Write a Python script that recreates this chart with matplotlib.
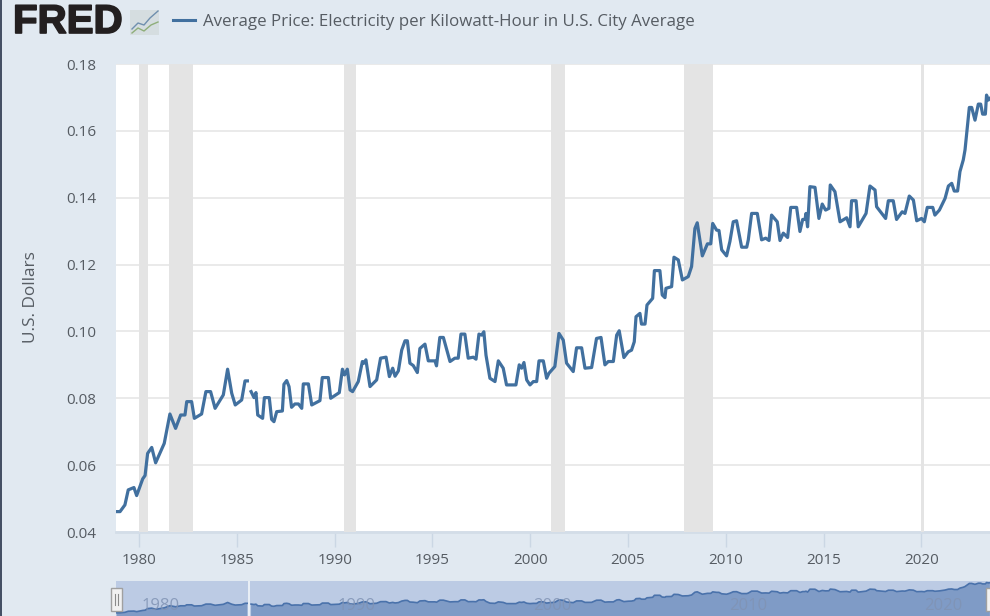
import numpy as np
import matplotlib
matplotlib.use("Agg")
import matplotlib.pyplot as plt
import matplotlib.patheffects as pe
from matplotlib.patches import Rectangle

plt.rcParams['font.family'] = ['Open Sans', 'DejaVu Sans']

TITLE = "Average Price: Electricity per Kilowatt-Hour in U.S. City Average"
Y_LABEL = "U.S. Dollars"
X_TICKS = [1980, 1985, 1990, 1995, 2000, 2005, 2010, 2015, 2020]
Y_TICKS = [0.04, 0.06, 0.08, 0.10, 0.12, 0.14, 0.16, 0.18]
NAV_LABELS = [1980, 1990, 2000, 2010, 2020]
RECESSIONS = [(1980.0, 1980.46), (1981.53, 1982.78), (1990.48, 1991.10),
              (2001.08, 2001.78), (2007.85, 2009.35), (2019.98, 2020.13)]

years = [1978.86, 1979.03, 1979.28, 1979.45, 1979.74, 1979.88, 1980.19, 1980.31, 1980.44, 1980.65,
         1980.85, 1981.29, 1981.58, 1981.87, 1982.13, 1982.35, 1982.44, 1982.69, 1982.83, 1983.20,
         1983.42, 1983.66, 1983.89, 1984.31, 1984.53, 1984.74, 1984.92, 1985.25, 1985.42, 1985.54,
         1985.63,
         1985.73, 1985.88, 1985.98, 1986.07, 1986.32, 1986.41, 1986.66, 1986.78, 1986.90, 1987.04,
         1987.33, 1987.41, 1987.55, 1987.67, 1987.80, 1987.97, 1988.15, 1988.32, 1988.40, 1988.66,
         1988.83, 1989.25, 1989.37, 1989.68, 1989.80, 1990.24, 1990.40, 1990.51, 1990.65, 1990.79,
         1990.92, 1991.21, 1991.42, 1991.50, 1991.60, 1991.81, 1992.15, 1992.35, 1992.63, 1992.80,
         1992.97, 1993.09, 1993.26, 1993.43, 1993.60, 1993.72, 1993.85,
         1994.02, 1994.23, 1994.36, 1994.62, 1994.79, 1995.13, 1995.21, 1995.38, 1995.56, 1995.90,
         1996.15, 1996.32, 1996.46, 1996.66, 1996.83, 1997.09, 1997.23, 1997.38, 1997.52, 1997.63,
         1997.74, 1997.94, 1998.20, 1998.37, 1998.62, 1998.79, 1999.27, 1999.44, 1999.56, 1999.68,
         1999.82, 1999.99, 2000.16, 2000.33, 2000.45, 2000.67, 2000.84, 2000.96, 2001.26, 2001.47,
         2001.69, 2001.86, 2002.20, 2002.37, 2002.63, 2002.80, 2003.14, 2003.39, 2003.62, 2003.82,
         2003.99, 2004.25, 2004.42, 2004.55, 2004.79, 2005.01, 2005.18, 2005.32, 2005.41, 2005.61,
         2005.69, 2005.87, 2005.97,
         2006.26, 2006.35, 2006.63, 2006.75, 2006.89, 2006.94, 2007.23, 2007.35, 2007.57, 2007.78,
         2008.08, 2008.25, 2008.42, 2008.54, 2008.80, 2009.06, 2009.23, 2009.33, 2009.53, 2009.65,
         2009.79, 2010.04, 2010.21, 2010.38, 2010.55, 2010.81, 2011.07, 2011.15, 2011.32, 2011.61,
         2011.83, 2012.04, 2012.21, 2012.34, 2012.63, 2012.77, 2012.94, 2013.16, 2013.32, 2013.62,
         2013.79, 2013.93, 2014.05, 2014.10, 2014.18, 2014.30, 2014.56, 2014.76, 2014.93, 2015.10,
         2015.27, 2015.34, 2015.58, 2015.84, 2016.18, 2016.35, 2016.43, 2016.66, 2016.77, 2017.17,
         2017.37, 2017.63, 2017.71, 2017.97, 2018.17, 2018.31, 2018.56, 2018.73, 2019.02, 2019.16,
         2019.38, 2019.59, 2019.76, 2020.01, 2020.15, 2020.30, 2020.58, 2020.69, 2020.92, 2021.21,
         2021.38, 2021.55, 2021.68, 2021.85, 2021.97,
         2022.14, 2022.23, 2022.45, 2022.57, 2022.74, 2022.91, 2023.03, 2023.13, 2023.27, 2023.33,
         2023.42, 2023.50]

prices = [.0461, .0461, .0481, .0526, .0533, .0509, .0559, .0569, .0635, .0653,
          .0607, .0665, .0753, .0710, .0750, .0750, .0790, .0790, .0740, .0753,
          .0820, .0820, .0770, .0810, .0887, .0815, .0780, .0795, .0852, .0852,
          np.nan,
          .0820, .0802, .0817, .0750, .0740, .0802, .0802, .0737, .0730, .0760,
          .0762, .0842, .0853, .0835, .0773, .0783, .0783, .0770, .0843, .0843,
          .0780, .0793, .0862, .0862, .0800, .0817, .0887, .0870, .0887, .0825,
          .0820, .0850, .0910, .0905, .0915, .0835, .0855, .0920, .0923, .0865,
          .0890, .0866, .0882, .0944, .0972, .0972, .0905,
          .0898, .0877, .0949, .0962, .0912, .0912, .0897, .0982, .0982, .0910,
          .0920, .0920, .0992, .0992, .0920, .0923, .0917, .0992, .0989, .0999,
          .0929, .0860, .0850, .0912, .0890, .0840, .0840, .0900, .0890, .0907,
          .0855, .0840, .0850, .0850, .0912, .0912, .0860, .0875, .0895, .0994,
          .0974, .0905, .0880, .0951, .0951, .0890, .0892, .0979, .0982, .0900,
          .0910, .0910, .0989, .1002, .0922, .0939, .0944, .0969, .1044, .1054,
          .1022, .1022, .1079,
          .1099, .1182, .1182, .1109, .1101, .1129, .1134, .1222, .1214, .1154,
          .1164, .1194, .1308, .1325, .1226, .1262, .1262, .1323, .1303, .1302,
          .1244, .1226, .1269, .1328, .1331, .1252, .1252, .1274, .1353, .1353,
          .1274, .1279, .1272, .1348, .1328, .1272, .1294, .1281, .1371, .1371,
          .1299, .1335, .1335, .1353, .1313, .1433, .1431, .1338, .1381, .1363,
          .1368, .1438, .1418, .1328, .1340, .1313, .1391, .1391, .1313, .1353,
          .1435, .1423, .1373, .1353, .1338, .1391, .1391, .1335, .1358, .1353,
          .1405, .1393, .1331, .1338, .1328, .1371, .1371, .1348, .1363, .1398,
          .1435, .1443, .1420, .1420, .1478,
          .1513, .1543, .1670, .1670, .1632, .1680, .1680, .1650, .1650, .1707,
          .1692, .1697]

years = np.array(years)
prices = np.array(prices)

W, H = 990, 616
BG = '#e1e9f1'
LINE = '#41709f'
TXT = '#565c63'

fig = plt.figure(figsize=(W / 100, H / 100), dpi=100, facecolor=BG)


def box(x0, y0, x1, y1):
    return [x0 / W, 1 - y1 / H, (x1 - x0) / W, (y1 - y0) / H]


ax = fig.add_axes(box(116, 64, 990, 532))
ax.set_xlim(1978.824, 2023.507)
ax.set_ylim(0.04, 0.18)
ax.set_facecolor('white')
for s in ax.spines.values():
    s.set_visible(False)
ax.set_axisbelow(True)
ax.grid(axis='y', color='#e6e6e6', lw=1.2)
ax.axhline(0.04, color='#d3dde8', lw=2, clip_on=False, zorder=1)
for a, b in RECESSIONS:
    ax.axvspan(a, b, color='#e4e4e4', lw=0, zorder=1.5)
ax.plot(years, prices, color=LINE, lw=2.3, solid_joinstyle='round', zorder=3, clip_on=True)
ax.set_xticks(X_TICKS)
ax.set_yticks(Y_TICKS)
ax.set_yticklabels([f"{v:.2f}" for v in Y_TICKS], fontsize=11, color=TXT)
ax.set_xticklabels([str(v) for v in X_TICKS], fontsize=11, color=TXT)
ax.tick_params(axis='y', length=0, pad=14)
ax.tick_params(axis='x', length=11, width=1, color='#cbd7e4', pad=4)
fig.text(31 / W, 1 - 297 / H, Y_LABEL, rotation=90, ha='center', va='center', fontsize=12.4, color=TXT)

# Navigator
nav = fig.add_axes(box(116, 581, 990, 616))
nav.set_xlim(1978.824, 2023.507)
nav.set_ylim(0.033, 0.177)
nav.set_facecolor('#bccbe4')
for s in nav.spines.values():
    s.set_visible(False)
nav.set_xticks([])
nav.set_yticks([])
valid = ~np.isnan(prices)
nav.fill_between(years, prices, 0.0, where=valid, color='#7f9bc6', lw=0, zorder=2)
nav.plot(years, prices, color='#4a72ab', lw=1.2, zorder=3)
nav.axvspan(1985.58, 1985.68, color='#e8eef5', lw=0, zorder=3.5)
for v in NAV_LABELS:
    nav.annotate(str(v), (v, 0.033), xytext=(22, 2), textcoords='offset pixels', ha='center', va='bottom',
                 fontsize=12, color='#8093b4', alpha=0.85, zorder=4, annotation_clip=False)

# Overlay for legend, logo, handles
ov = fig.add_axes([0, 0, 1, 1], facecolor='none', zorder=10)
ov.set_xlim(0, W)
ov.set_ylim(H, 0)
ov.axis('off')

ov.text(13, 22, "FRED", fontsize=29, fontweight='bold', family='Liberation Sans', color='#231f20',
        ha='left', va='center',
        path_effects=[pe.withStroke(linewidth=1.2, foreground='#231f20')])
ov.add_patch(Rectangle((130, 10), 29, 25, color='#d5dde0', lw=0))
ov.plot([132, 138, 144, 150, 158], [29, 23, 25, 18, 11], color='#6f8fae', lw=1)
ov.plot([132, 138, 144, 151, 158], [33, 28, 31, 25, 22], color='#8fae7a', lw=1)
ov.plot([173, 195], [20, 20], color=LINE, lw=2.2)
ov.text(203, 21.5, TITLE, fontsize=12.2, color=TXT, ha='left', va='center')

ov.add_patch(Rectangle((110.5, 588), 11, 23, facecolor='#f1f1f1', edgecolor='#a0a0a0', lw=1))
ov.plot([114.5, 114.5], [594, 605], color='#8a8a8a', lw=0.8)
ov.plot([117.5, 117.5], [594, 605], color='#8a8a8a', lw=0.8)
ov.add_patch(Rectangle((985.5, 588), 11, 23, facecolor='#f1f1f1', edgecolor='#a0a0a0', lw=1))
ov.plot([0.5, 0.5], [0, H], color='#26324a', lw=1.2)

fig.savefig('out.png', dpi=100, facecolor=BG)
